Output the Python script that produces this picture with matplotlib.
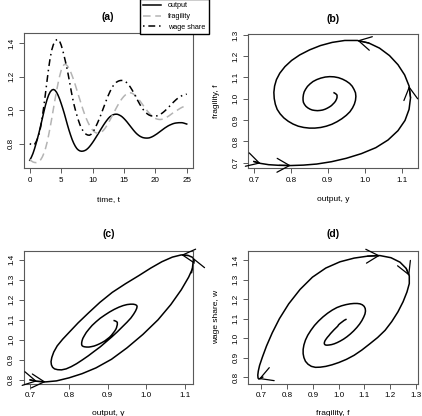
import numpy as np
import matplotlib.pyplot as plt

plt.rcParams['font.family'] = ['Liberation Sans', 'DejaVu Sans']

# time grid and the three state variables (checked against b-d)
t = np.arange(0, 25.25, 0.25)

output = [0.700, 0.718, 0.740, 0.768, 0.800, 0.834, 0.870, 0.910, 0.950, 0.991,
          1.030, 1.063, 1.090, 1.109, 1.120, 1.124, 1.120, 1.108, 1.090, 1.067,
          1.040, 1.011, 0.980, 0.946, 0.912, 0.880, 0.851, 0.824, 0.802, 0.784,
          0.770, 0.761, 0.756, 0.754, 0.755, 0.758, 0.763, 0.771, 0.781, 0.793,
          0.806, 0.820, 0.835, 0.850, 0.865, 0.881, 0.896, 0.911, 0.925, 0.938,
          0.950, 0.960, 0.967, 0.972, 0.975, 0.976, 0.975, 0.971, 0.966, 0.959,
          0.950, 0.940, 0.929, 0.917, 0.905, 0.893, 0.881, 0.870, 0.860, 0.852,
          0.845, 0.840, 0.836, 0.834, 0.833, 0.833, 0.834, 0.837, 0.841, 0.846,
          0.852, 0.858, 0.865, 0.872, 0.879, 0.886, 0.893, 0.899, 0.905, 0.910,
          0.914, 0.918, 0.921, 0.923, 0.924, 0.925, 0.925, 0.925, 0.923, 0.920,
          0.917]

fragility = [0.705, 0.696, 0.690, 0.687, 0.686, 0.688, 0.693, 0.704, 0.720, 0.742,
             0.770, 0.806, 0.850, 0.898, 0.950, 1.005, 1.060, 1.112, 1.160, 1.203,
             1.238, 1.262, 1.274, 1.274, 1.265, 1.250, 1.230, 1.206, 1.180, 1.151,
             1.120, 1.090, 1.060, 1.030, 1.001, 0.974, 0.950, 0.929, 0.910, 0.894,
             0.881, 0.871, 0.865, 0.862, 0.862, 0.865, 0.871, 0.880, 0.892, 0.906,
             0.922, 0.939, 0.957, 0.975, 0.993, 1.011, 1.028, 1.044, 1.059, 1.072,
             1.083, 1.092, 1.099, 1.103, 1.104, 1.102, 1.097, 1.090, 1.081, 1.070,
             1.058, 1.045, 1.032, 1.019, 1.006, 0.994, 0.983, 0.973, 0.964, 0.957,
             0.951, 0.947, 0.945, 0.944, 0.945, 0.947, 0.951, 0.956, 0.962, 0.968,
             0.975, 0.982, 0.989, 0.996, 1.000, 1.006, 1.012, 1.017, 1.021, 1.025,
             1.028]

wage = [0.800, 0.793, 0.790, 0.795, 0.810, 0.831, 0.860, 0.903, 0.960, 1.027,
        1.100, 1.176, 1.250, 1.313, 1.360, 1.392, 1.411, 1.421, 1.424, 1.413,
        1.390, 1.358, 1.320, 1.280, 1.237, 1.187, 1.135, 1.085, 1.040, 1.003,
        0.970, 0.939, 0.912, 0.891, 0.875, 0.863, 0.855, 0.851, 0.850, 0.855,
        0.866, 0.881, 0.900, 0.920, 0.942, 0.965, 0.990, 1.015, 1.040, 1.065,
        1.088, 1.109, 1.128, 1.144, 1.157, 1.166, 1.172, 1.176, 1.178, 1.178,
        1.176, 1.171, 1.163, 1.152, 1.139, 1.124, 1.108, 1.090, 1.072, 1.054,
        1.037, 1.021, 1.007, 0.995, 0.985, 0.977, 0.971, 0.967, 0.965, 0.964,
        0.964, 0.966, 0.969, 0.974, 0.980, 0.987, 0.995, 1.004, 1.013, 1.023,
        1.033, 1.043, 1.052, 1.061, 1.069, 1.076, 1.082, 1.087, 1.091, 1.094,
        1.096]

W, H = 422, 416
fig = plt.figure(figsize=(W / 100, H / 100), dpi=100)


def box(l, r, top, bot):
    return [l / W, 1 - bot / H, (r - l) / W, (bot - top) / H]


def style(ax):
    for s in ax.spines.values():
        s.set_color('0.35')
        s.set_linewidth(0.8)
    ax.tick_params(direction='out', length=3.6, width=0.7, color='0.35',
                   labelsize=5.8, pad=2.5)
    for lab in ax.get_yticklabels():
        lab.set_rotation(90)
        lab.set_va('center')


def arrow(ax, xs, ys, i):
    ax.annotate('', xy=(xs[i], ys[i]), xytext=(xs[i - 1], ys[i - 1]),
                arrowprops=dict(arrowstyle='->,head_length=0.45,head_width=0.25',
                                mutation_scale=20, lw=0.9, color='black',
                                shrinkA=0, shrinkB=0))


# (a) time series
ax = fig.add_axes(box(23.5, 193, 33, 168.3))
ax.plot(t, output, color='black', lw=1.1, label='output')
ax.plot(t, fragility, color='#b4b4b4', lw=1.1, dashes=(5, 3), label='fragility')
ax.plot(t, wage, color='black', lw=1.1, dashes=(1, 2.5, 4.5, 2.5), label='wage share')
ax.set_xlim(-1, 26)
ax.set_ylim(0.652, 1.462)
ax.set_xticks([0, 5, 10, 15, 20, 25])
ax.set_yticks([0.8, 1.0, 1.2, 1.4])
ax.set_xlabel('time, t', fontsize=6, labelpad=9)
ax.set_title('(a)', fontsize=7.5, fontweight='bold', pad=9)
style(ax)
fig.legend(loc='lower left', bbox_to_anchor=(139.5 / W, 1 - 34 / H), borderaxespad=0,
           fontsize=5.2, handlelength=2.5, labelspacing=0.5, borderpad=0.45,
           handletextpad=1.0, fancybox=False, framealpha=1, edgecolor='black')

# (b) output vs fragility
ax = fig.add_axes(box(248, 418.3, 34.3, 168.3))
ax.plot(output, fragility, color='black', lw=1.1)
for i in [1, 4, 16, 22]:
    arrow(ax, output, fragility, i)
ax.set_xlim(0.684, 1.145)
ax.set_ylim(0.673, 1.303)
ax.set_xticks([0.7, 0.8, 0.9, 1.0, 1.1])
ax.set_yticks([0.7, 0.8, 0.9, 1.0, 1.1, 1.2, 1.3])
ax.set_xlabel('output, y', fontsize=6, labelpad=9)
ax.set_ylabel('fragility, f', fontsize=6, labelpad=9)
ax.set_title('(b)', fontsize=7.5, fontweight='bold', pad=9)
style(ax)

# (c) output vs wage share
ax = fig.add_axes(box(23.5, 193.3, 250.7, 383.7))
ax.plot(output, wage, color='black', lw=1.1)
for i in [1, 2, 16, 18]:
    arrow(ax, output, wage, i)
ax.set_xlim(0.683, 1.121)
ax.set_ylim(0.781, 1.445)
ax.set_xticks([0.7, 0.8, 0.9, 1.0, 1.1])
ax.set_yticks([0.8, 0.9, 1.0, 1.1, 1.2, 1.3, 1.4])
ax.set_xlabel('output, y', fontsize=6, labelpad=7.5)
ax.set_title('(c)', fontsize=7.5, fontweight='bold', pad=10)
style(ax)

# (d) fragility vs wage share
ax = fig.add_axes(box(248, 418.3, 250.7, 383.7))
ax.plot(fragility, wage, color='black', lw=1.1)
for i in [2, 18, 22]:
    arrow(ax, fragility, wage, i)
ax.set_xlim(0.648, 1.309)
ax.set_ylim(0.766, 1.449)
ax.set_xticks([0.7, 0.8, 0.9, 1.0, 1.1, 1.2, 1.3])
ax.set_yticks([0.8, 0.9, 1.0, 1.1, 1.2, 1.3, 1.4])
ax.set_xlabel('fragility, f', fontsize=6, labelpad=7.5)
ax.set_ylabel('wage share, w', fontsize=6, labelpad=9)
ax.set_title('(d)', fontsize=7.5, fontweight='bold', pad=10)
style(ax)

fig.savefig('out.png', dpi=100)
